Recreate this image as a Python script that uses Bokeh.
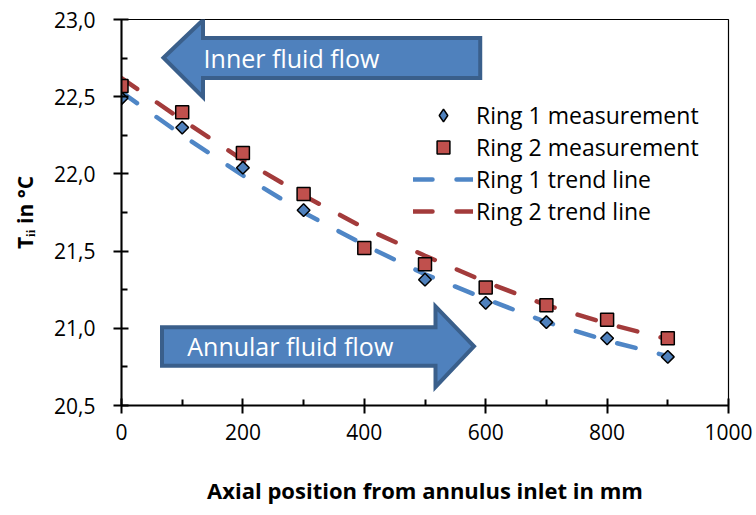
from bokeh.plotting import figure
from bokeh.models import (Range1d, FixedTicker, CustomJSTickFormatter, Legend, LegendItem,
                          ColumnDataSource)
from bokeh.core.properties import value
from bokeh.embed import file_html
from bokeh.resources import INLINE
import math

# ---- data ----
positions = [0, 100, 200, 300, 400, 500, 600, 700, 800, 900]
ring1_meas = [22.49, 22.30, 22.04, 21.765, 21.52, 21.315, 21.165, 21.04, 20.935, 20.815]
ring2_meas = [22.57, 22.40, 22.135, 21.87, 21.52, 21.415, 21.265, 21.15, 21.055, 20.935]
ring1_trend = [22.53, 22.25, 21.99, 21.75, 21.54, 21.35, 21.19, 21.04, 20.92, 20.82]
ring2_trend = [22.62, 22.35, 22.09, 21.86, 21.65, 21.47, 21.30, 21.15, 21.03, 20.93]
x_ticks = [0, 200, 400, 600, 800, 1000]
x_minor = [100, 300, 500, 700, 900]
y_ticks = [20.5, 21.0, 21.5, 22.0, 22.5, 23.0]
y_minor = [20.75, 21.25, 21.75, 22.25, 22.75]

# decorative flow arrows (outline polygons in data space)
inner_arrow_x = [69.2, 134.3, 134.3, 591.0, 591.0, 134.3, 134.3]
inner_arrow_y = [22.752, 22.997, 22.880, 22.880, 22.621, 22.621, 22.497]
annular_arrow_x = [66.7, 517.3, 517.3, 580.7, 517.3, 517.3, 66.7]
annular_arrow_y = [21.006, 21.006, 21.142, 20.883, 20.620, 20.757, 20.757]

FONT = "Open Sans"
BLUE = "#4F81BD"
RED = "#C0504D"
BLUE_LINE = "#4F86C6"
RED_LINE = "#A33B3B"

p = figure(width=756, height=515, output_backend="svg", toolbar_location=None,
           x_range=Range1d(0, 1000), y_range=Range1d(20.5, 23.0),
           min_border_left=121, min_border_right=28, min_border_top=19, min_border_bottom=110)
p.background_fill_color = "white"
p.border_fill_color = "white"
p.outline_line_color = "black"
p.outline_line_width = 1.2
p.grid.visible = False

# arrows
p.patch(inner_arrow_x, inner_arrow_y, fill_color=BLUE, line_color="#3A5F8B", line_width=4,
        line_join="miter")
p.patch(annular_arrow_x, annular_arrow_y, fill_color=BLUE, line_color="#3A5F8B", line_width=4,
        line_join="miter")
p.text(x=[280], y=[22.752], text=["Inner fluid flow"], text_color="white",
       text_font=value(FONT), text_font_size="25px", text_align="center", text_baseline="middle")
p.text(x=[278], y=[20.883], text=["Annular fluid flow"], text_color="white",
       text_font=value(FONT), text_font_size="25px", text_align="center", text_baseline="middle")

src = ColumnDataSource(dict(x=positions, r1=ring1_meas, r2=ring2_meas, t1=ring1_trend, t2=ring2_trend))

l1 = p.line("x", "t1", source=src, line_color=BLUE_LINE, line_width=4.5, line_dash="19 24",
            line_cap="round")
l2 = p.line("x", "t2", source=src, line_color=RED_LINE, line_width=4.5, line_dash="19 24",
            line_cap="round")
s1 = p.scatter("x", "r1", source=src, marker="square", angle=math.pi / 4, size=9,
               fill_color=BLUE, line_color="black", line_width=1.5)
s2 = p.scatter("x", "r2", source=src, marker="square", size=13, fill_color=RED,
               line_color="black", line_width=1.5)
# hidden glyph used only for the legend's diamond symbol
s1_leg = p.scatter("x", "r1", source=src, marker="diamond", size=15, fill_color=BLUE,
                   line_color="black", line_width=1.5)
s1_leg.visible = False

legend = Legend(items=[LegendItem(label="Ring 1 measurement", renderers=[s1_leg]),
                       LegendItem(label="Ring 2 measurement", renderers=[s2]),
                       LegendItem(label="Ring 1 trend line", renderers=[l1]),
                       LegendItem(label="Ring 2 trend line", renderers=[l2])],
                location=(292, 178), orientation="vertical")
legend.border_line_color = None
legend.background_fill_alpha = 0
legend.inactive_fill_alpha = 0
legend.padding = 0
legend.margin = 0
legend.spacing = 0
legend.glyph_width = 60
legend.glyph_height = 32
legend.label_height = 32
legend.label_standoff = 3
legend.label_text_font = FONT
legend.label_text_font_size = "23px"
legend.label_text_color = "black"
p.add_layout(legend)

# axes
for ax in (p.xaxis[0], p.yaxis[0]):
    ax.axis_line_width = 2
    ax.axis_line_color = "black"
    ax.major_tick_line_width = 2
    ax.minor_tick_line_width = 2
    ax.major_tick_in = 7
    ax.major_tick_out = 8
    ax.minor_tick_in = 6
    ax.minor_tick_out = 0
    ax.major_label_text_font = FONT
    ax.major_label_text_font_size = "21px"
    ax.major_label_text_color = "black"
    ax.axis_label_text_font = FONT
    ax.axis_label_text_font_style = "bold"
    ax.axis_label_text_font_size = "21px"
    ax.axis_label_text_color = "black"

p.xaxis.axis_label_text_font_size = "22px"
p.xaxis.ticker = FixedTicker(ticks=x_ticks, minor_ticks=x_minor)
p.yaxis.ticker = FixedTicker(ticks=y_ticks, minor_ticks=y_minor)
p.yaxis.formatter = CustomJSTickFormatter(code="return tick.toFixed(1).replace('.', ',');")
p.xaxis.major_label_standoff = 10
p.yaxis.major_label_standoff = 18
p.xaxis.axis_label = "Axial position from annulus inlet in mm"
p.yaxis.axis_label = "T\u1d62\u1d62 in °C"
p.xaxis.axis_label_standoff = 32
p.yaxis.axis_label_standoff = 12

open("out.html", "w").write(file_html(p, INLINE))
